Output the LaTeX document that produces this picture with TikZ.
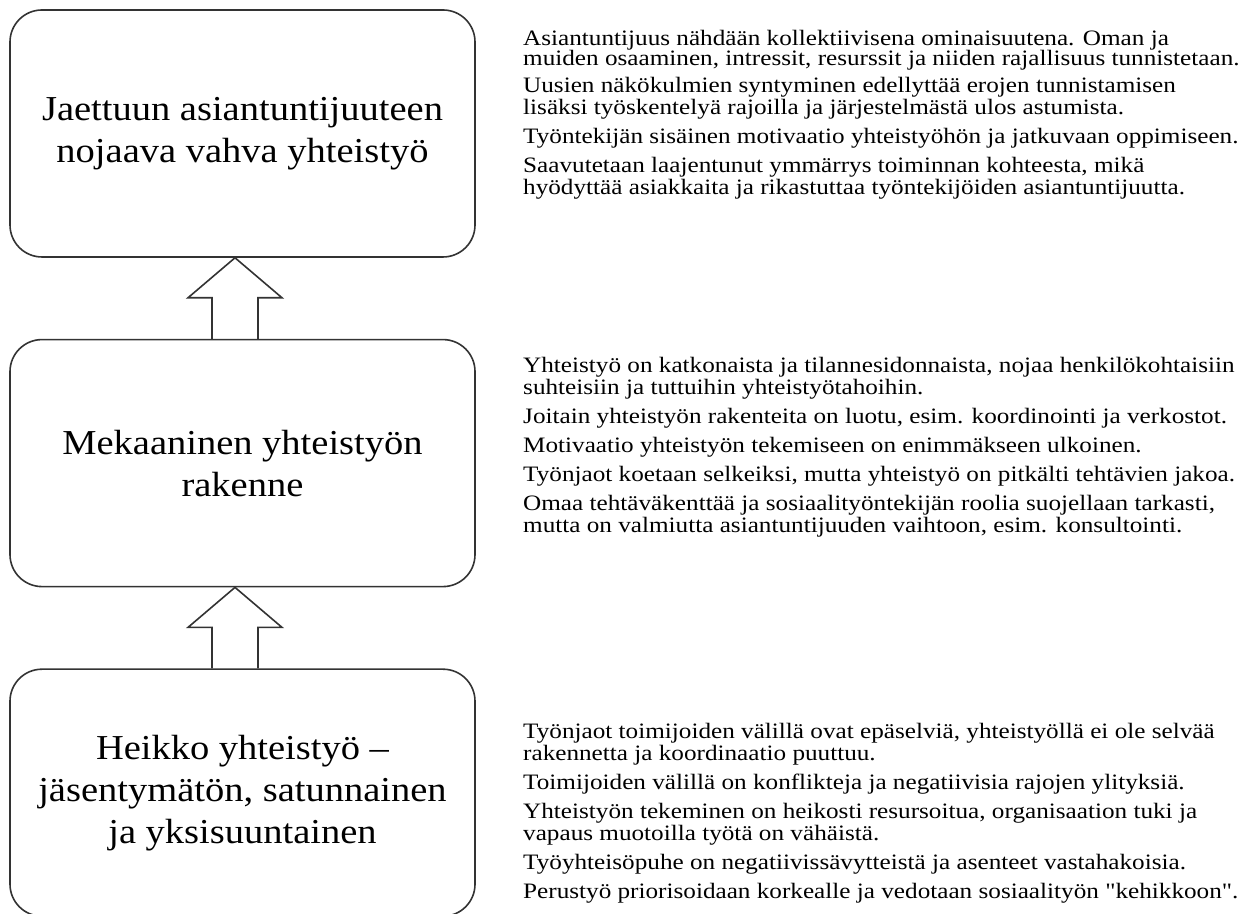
\documentclass[tikz,border=0pt]{standalone}
\usepackage{fontspec}
\setmainfont{Liberation Serif}
\newfontfamily\notefont{Liberation Serif}[FakeStretch=1.145]
\newfontfamily\stagefont{Liberation Serif}[FakeStretch=1.1]
\usetikzlibrary{positioning}

\begin{document}
\begin{tikzpicture}[node distance=40.5pt,
  stage/.style={draw=black!80,line width=0.8pt,rounded corners=16pt,
    minimum width=232.5pt,minimum height=123.5pt,inner sep=0pt,align=center,
    font=\stagefont\fontsize{17.5pt}{21pt}\selectfont},
  notes/.style={inner sep=0pt,align=left,
    font=\notefont\fontsize{11pt}{10pt}\selectfont},
  lift/.style={draw=black!80,line width=0.8pt}]
  \useasboundingbox (0,0) rectangle (626.5pt,457pt);
  % the three levels of collaboration
  \node[stage] (top) at (121.25pt,390.25pt) {Jaettuun asiantuntijuuteen\\nojaava vahva yhteistyö};
  \node[stage] (mid) [below=of top] {Mekaaninen yhteistyön\\rakenne};
  \node[stage] (low) [below=of mid] {Heikko yhteistyö –\\jäsentymätön, satunnainen\\ja yksisuuntainen};
  % hollow arrows between the levels
  \draw[lift] ([xshift=-15.25pt]mid.north) -- ([xshift=-15.25pt,yshift=-20pt]top.south)
    -- ([xshift=-27.25pt,yshift=-20pt]top.south) -- ([xshift=-3.75pt]top.south)
    -- ([xshift=19.75pt,yshift=-20pt]top.south) -- ([xshift=7.75pt,yshift=-20pt]top.south)
    -- ([xshift=7.75pt]mid.north);
  \draw[lift] ([xshift=-15.25pt]low.north) -- ([xshift=-15.25pt,yshift=-20pt]mid.south)
    -- ([xshift=-27.25pt,yshift=-20pt]mid.south) -- ([xshift=-3.75pt]mid.south)
    -- ([xshift=19.75pt,yshift=-20pt]mid.south) -- ([xshift=7.75pt,yshift=-20pt]mid.south)
    -- ([xshift=7.75pt]low.north);
  % descriptions
  \node[notes] (topnotes) [below right=10.3pt and 23.5pt of top.north east]
    {Asiantuntijuus nähdään kollektiivisena ominaisuutena. Oman ja\\
     muiden osaaminen, intressit, resurssit ja niiden rajallisuus tunnistetaan.\\[3.5pt]
     Uusien näkökulmien syntyminen edellyttää erojen tunnistamisen\\
     lisäksi työskentelyä rajoilla ja järjestelmästä ulos astumista.\\[3.5pt]
     Työntekijän sisäinen motivaatio yhteistyöhön ja jatkuvaan oppimiseen.\\[3.5pt]
     Saavutetaan laajentunut ymmärrys toiminnan kohteesta, mikä\\
     hyödyttää asiakkaita ja rikastuttaa työntekijöiden asiantuntijuutta.};
  \node[notes] (midnotes) [below right=8.8pt and 23.5pt of mid.north east]
    {Yhteistyö on katkonaista ja tilannesidonnaista, nojaa henkilökohtaisiin\\
     suhteisiin ja tuttuihin yhteistyötahoihin.\\[3.5pt]
     Joitain yhteistyön rakenteita on luotu, esim. koordinointi ja verkostot.\\[3.5pt]
     Motivaatio yhteistyön tekemiseen on enimmäkseen ulkoinen.\\[3.5pt]
     Työnjaot koetaan selkeiksi, mutta yhteistyö on pitkälti tehtävien jakoa.\\[3.5pt]
     Omaa tehtäväkenttää ja sosiaalityöntekijän roolia suojellaan tarkasti,\\
     mutta on valmiutta asiantuntijuuden vaihtoon, esim. konsultointi.};
  \node[notes] (lownotes) [below right=27.3pt and 23.5pt of low.north east]
    {Työnjaot toimijoiden välillä ovat epäselviä, yhteistyöllä ei ole selvää\\
     rakennetta ja koordinaatio puuttuu.\\[3.5pt]
     Toimijoiden välillä on konflikteja ja negatiivisia rajojen ylityksiä.\\[3.5pt]
     Yhteistyön tekeminen on heikosti resursoitua, organisaation tuki ja\\
     vapaus muotoilla työtä on vähäistä.\\[3.5pt]
     Työyhteisöpuhe on negatiivissävytteistä ja asenteet vastahakoisia.\\[3.5pt]
     Perustyö priorisoidaan korkealle ja vedotaan sosiaalityön "kehikkoon".};
\end{tikzpicture}
\end{document}
